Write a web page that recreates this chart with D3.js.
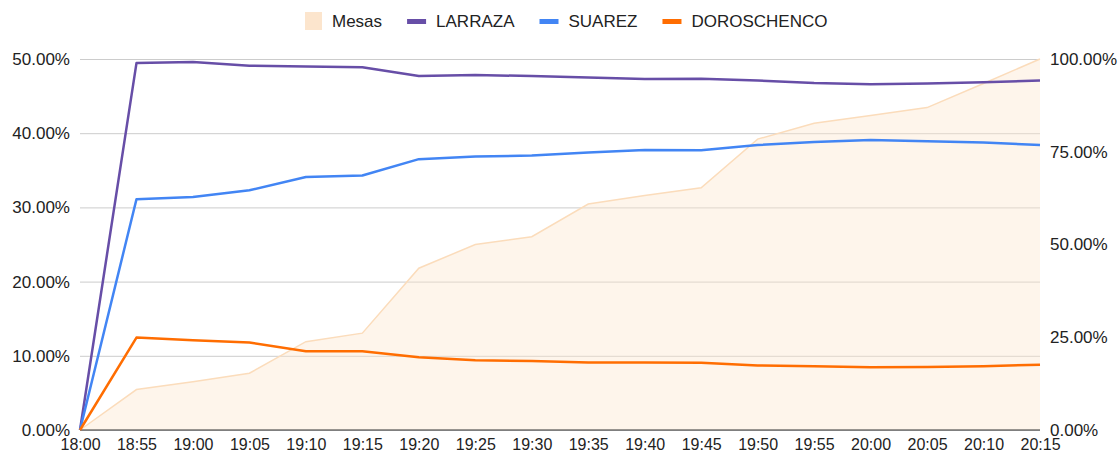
<!DOCTYPE html>
<html><head><meta charset="utf-8">
<script src="https://cdn.jsdelivr.net/npm/d3@7"></script>
<style>body{margin:0;background:#fff;}svg{display:block;}text{font-family:"Liberation Sans",Arial,sans-serif;}</style>
</head><body>
<svg id="chart" width="1120" height="455"></svg>
<script>
const categories = ["18:00","18:55","19:00","19:05","19:10","19:15","19:20","19:25","19:30","19:35","19:40","19:45","19:50","19:55","20:00","20:05","20:10","20:15"];
const mesas      = [0,10.9,13.0,15.3,23.8,26.1,43.6,50.0,52.1,60.9,63.2,65.3,78.4,82.7,84.8,86.9,93.4,100];
const larraza    = [0,49.45,49.6,49.1,49.0,48.9,47.7,47.85,47.7,47.5,47.3,47.35,47.1,46.75,46.6,46.7,46.85,47.1];
const suarez     = [0,31.1,31.4,32.3,34.1,34.3,36.5,36.85,37.0,37.4,37.75,37.7,38.4,38.8,39.1,38.9,38.75,38.4];
const doroschenco= [0,12.45,12.1,11.8,10.6,10.6,9.8,9.4,9.3,9.1,9.1,9.05,8.7,8.6,8.45,8.5,8.6,8.8];
const leftTicks  = [0,10,20,30,40,50];
const rightTicks = [0,25,50,75,100];

const svg = d3.select("#chart");
const L = 80, R = 1040, T = 59, B = 430;
const x = d3.scalePoint().domain(categories).range([L, R]);
const yL = d3.scaleLinear().domain([0, 50]).range([B, T]);
const yR = d3.scaleLinear().domain([0, 100]).range([B, T]);
const fmt = v => v.toFixed(2) + "%";
const FONT = "Liberation Sans, Arial, sans-serif";

// gridlines
svg.append("g").attr("transform", `translate(${L},0)`)
  .call(d3.axisLeft(yL).tickValues(leftTicks).tickSize(-(R - L)).tickFormat(""))
  .call(g => g.select(".domain").remove())
  .call(g => g.selectAll("line").attr("stroke", "#cccccc").attr("stroke-width", 1));

// left labels
svg.append("g").attr("transform", `translate(${L},0)`)
  .call(d3.axisLeft(yL).tickValues(leftTicks).tickSize(0).tickPadding(10).tickFormat(fmt))
  .call(g => g.select(".domain").remove())
  .call(g => g.selectAll("text").attr("font-size", 17).attr("fill", "#222").attr("font-family", FONT));

// right labels
svg.append("g").attr("transform", `translate(${R},0)`)
  .call(d3.axisRight(yR).tickValues(rightTicks).tickSize(0).tickPadding(10).tickFormat(fmt))
  .call(g => g.select(".domain").remove())
  .call(g => g.selectAll("text").attr("font-size", 17).attr("fill", "#222").attr("font-family", FONT));

// Mesas area
svg.append("path").datum(mesas)
  .attr("fill", "#fce5cd").attr("fill-opacity", 0.4)
  .attr("d", d3.area().x((d, i) => x(categories[i])).y0(B).y1(d => yR(d)));
svg.append("path").datum(mesas)
  .attr("fill", "none").attr("stroke", "#fbdcbb").attr("stroke-width", 1.5)
  .attr("d", d3.line().x((d, i) => x(categories[i])).y(d => yR(d)));

// baseline
svg.append("line").attr("x1", L).attr("x2", R).attr("y1", B).attr("y2", B)
  .attr("stroke", "#333").attr("stroke-width", 1);

// x labels
svg.append("g").attr("transform", `translate(0,${B})`)
  .call(d3.axisBottom(x).tickSize(0).tickPadding(9))
  .call(g => g.select(".domain").remove())
  .call(g => g.selectAll("text").attr("font-size", 16).attr("fill", "#222").attr("font-family", FONT));

const series = [
  {name: "LARRAZA", values: larraza, color: "#674ea7"},
  {name: "SUAREZ", values: suarez, color: "#4285f4"},
  {name: "DOROSCHENCO", values: doroschenco, color: "#ff6d01"}
];
series.forEach(s => {
  svg.append("path").datum(s.values)
    .attr("fill", "none").attr("stroke", s.color).attr("stroke-width", 2.5)
    .attr("stroke-linejoin", "round")
    .attr("d", d3.line().x((d, i) => x(categories[i])).y(d => yL(d)));
});

// legend
const legendItems = [{name: "Mesas", color: "#fce5cd", type: "rect"}].concat(series.map(s => ({name: s.name, color: s.color, type: "line"})));
const lg = svg.append("g");
let cx = 0;
legendItems.forEach(it => {
  const g = lg.append("g").attr("transform", `translate(${cx},0)`);
  if (it.type === "rect") {
    g.append("rect").attr("x", 0).attr("y", 12).attr("width", 17).attr("height", 18).attr("fill", it.color);
  } else {
    g.append("rect").attr("x", 0).attr("y", 19).attr("width", 19).attr("height", 5).attr("fill", it.color);
  }
  const sw = it.type === "rect" ? 17 : 19;
  const t = g.append("text").attr("x", sw + 10).attr("y", 27).attr("font-size", 17).attr("fill", "#222").text(it.name);
  cx += sw + 10 + t.node().getComputedTextLength() + 25;
});
lg.attr("transform", `translate(305,0)`);
</script>
</body></html>
